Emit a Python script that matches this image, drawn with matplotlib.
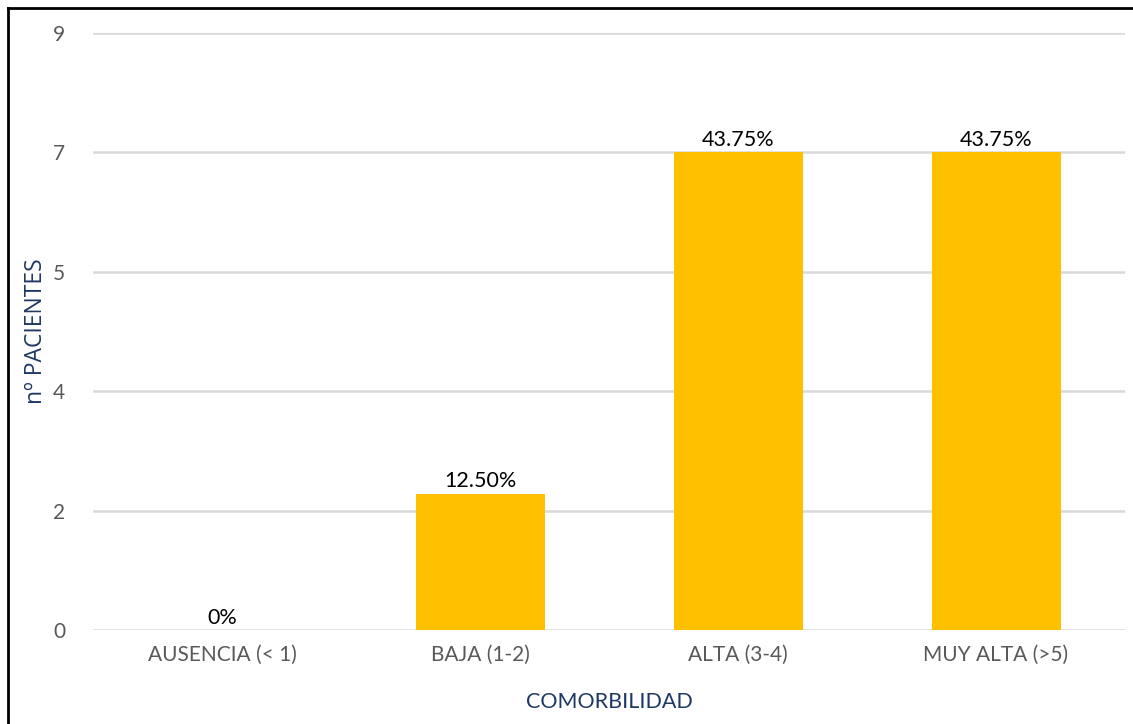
import matplotlib
matplotlib.use("Agg")
import matplotlib.pyplot as plt
from matplotlib.lines import Line2D

plt.rcParams['font.family'] = ['Lato', 'DejaVu Sans']

# comorbidity groups and number of patients in each
categorias = ['AUSENCIA (< 1)', 'BAJA (1-2)', 'ALTA (3-4)', 'MUY ALTA (>5)']
pacientes = [0, 2, 7, 7]
porcentajes = ['0%', '12.50%', '43.75%', '43.75%']

# axis runs 0..8.75 in steps of 1.75, labels shown rounded
y_ticks = [0, 1.75, 3.5, 5.25, 7, 8.75]
y_labels = ['0', '2', '4', '5', '7', '9']

fig = plt.figure(figsize=(11.33, 7.24), dpi=100)
ax = fig.add_axes([93 / 1133, 94 / 724, 1032 / 1133, 597 / 724])

x = range(len(categorias))
bars = ax.bar(x, pacientes, width=0.5, color='#FFC000', zorder=3)

for b, txt in zip(bars, porcentajes):
    ax.text(b.get_x() + b.get_width() / 2, b.get_height() + 0.03, txt,
            ha='center', va='bottom', fontsize=15.5, color='black')

ax.set_xlim(-0.5, 3.5)
ax.set_ylim(0, 8.75)
ax.set_yticks(y_ticks)
ax.set_yticklabels(y_labels)
ax.set_xticks(list(x))
ax.set_xticklabels(categorias)
ax.tick_params(axis='both', length=0, labelsize=15, labelcolor='#595959')
ax.tick_params(axis='y', pad=20)
ax.tick_params(axis='x', pad=11)

ax.grid(axis='y', color='#D9D9D9', linewidth=1.8, zorder=0)
for s in ax.spines.values():
    s.set_visible(False)

ax.set_xlabel('COMORBILIDAD', fontsize=15.5, color='#1F3864', labelpad=19)
ax.set_ylabel('nº PACIENTES', fontsize=16.5, color='#1F3864',
              family=['Open Sans', 'DejaVu Sans'])
ax.yaxis.set_label_coords(-0.044, 0.5)

# outer frame: only the top and left edges are visible
fig.add_artist(Line2D([8 / 1133, 8 / 1133], [0, 1 - 8 / 724], color='black', linewidth=2))
fig.add_artist(Line2D([8 / 1133, 1], [1 - 8 / 724, 1 - 8 / 724], color='black', linewidth=2))

fig.savefig('out.png', dpi=100)
